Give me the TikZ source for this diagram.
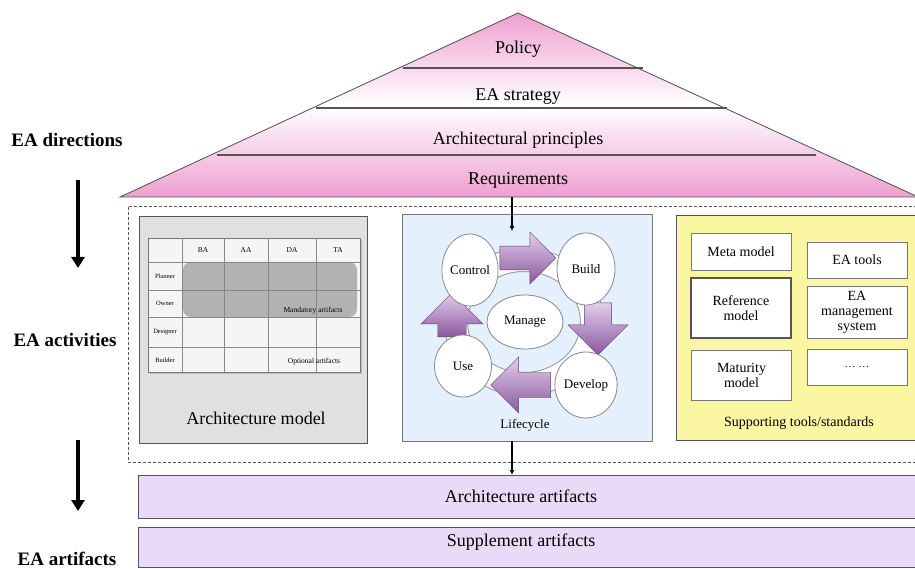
\documentclass[tikz,border=0pt]{standalone}
\usepackage{fontspec}
\setmainfont{Liberation Serif}
\usetikzlibrary{arrows.meta,shapes.geometric,shapes.arrows,shadows}

\definecolor{roofpink}{RGB}{238,160,208}
\definecolor{artlilac}{RGB}{233,218,247}
\definecolor{lifeblue}{RGB}{228,240,251}
\definecolor{toolyellow}{RGB}{250,246,162}
\definecolor{modelgrey}{RGB}{224,224,224}
\definecolor{edgegrey}{RGB}{85,85,85}
\definecolor{cyclepurple}{RGB}{138,88,158}
\definecolor{cyclelight}{RGB}{226,206,236}

\newcommand{\pxsize}[2]{\fontsize{#1}{#2}\selectfont}

\begin{document}
\begin{tikzpicture}
      [x=1pt,y=-1pt,
      layer text/.style={font=\pxsize{18}{20}},
      side label/.style={font=\pxsize{19}{21}\bfseries},
      panel/.style={rectangle,draw=edgegrey,line width=1pt,inner sep=0pt},
      tool box/.style={rectangle,draw=edgegrey!80,fill=white,line width=0.8pt,
        minimum width=100,minimum height=36,align=center,inner sep=1pt,
        font=\pxsize{14}{15}},
      phase/.style={ellipse,draw=edgegrey!70,fill=white,line width=0.8pt,
        inner sep=0pt,font=\pxsize{13}{15}},
      cycle arrow/.style={single arrow,draw=cyclepurple!70!black,line width=0.4pt,
        top color=cyclelight,bottom color=cyclepurple,inner sep=11.5pt,
        single arrow head extend=14pt},
      big arrow/.style={line width=4.5pt,-{Triangle[width=13pt,length=11pt]}},
      link/.style={line width=1.6pt,-{Latex[length=5pt,width=5pt]}},
      cell text/.style={inner sep=0pt,font=\pxsize{7.5}{8}}]
      \useasboundingbox (0,0) rectangle (915,569);
      \fill[white] (0,0) rectangle (915,569);
      \clip (0,0) rectangle (915,569);
      % roof
      \filldraw[draw=edgegrey,line width=0.8pt,top color=roofpink,
        bottom color=roofpink,middle color=white] (120,197) -- (518,13) -- (918,197) -- cycle;
      \draw[edgegrey,line width=1.2pt] (403,68) -- (643,68);
      \draw[edgegrey,line width=1.2pt] (316,108) -- (727,108);
      \draw[edgegrey,line width=1.2pt] (217,155) -- (816,155);
      \node[layer text] (policy) at (518,49) {Policy};
      \node[layer text] (strategy) at (518,97) {EA strategy};
      \node[layer text] (principles) at (518,140) {Architectural principles};
      \node[layer text] (req) at (518,180) {Requirements};
      % side labels
      \node[side label] (dir) at (67,140) {EA directions};
      \node[side label] (act) at (65,340) {EA activities};
      \node[side label] (art) at (67,559) {EA artifacts};
      \coordinate (dirfrom) at (78,180);
      \coordinate (dirto) at (78,268);
      \coordinate (actfrom) at (78,440);
      \coordinate (actto) at (78,511);
      \draw[big arrow] (dirfrom) -- (dirto);
      \draw[big arrow] (actfrom) -- (actto);
      % activities frame
      \draw[edgegrey,line width=1pt,dash pattern=on 3pt off 2pt] (128,207) rectangle (925,462);
      \node[panel,fill=modelgrey,minimum width=228,minimum height=226] (model) at (253,330) {};
      \node[panel,fill=lifeblue,draw=edgegrey!80,minimum width=250,minimum height=226] (life) at (527,328) {};
      \node[panel,fill=toolyellow,minimum width=254,minimum height=224] (support) at (803,328) {};
      % architecture model table
      \filldraw[draw=edgegrey!80,fill=gray!8,drop shadow={opacity=0.35}] (148,238) rectangle (360,372);
      \fill[gray!60,rounded corners=8] (183,262) rectangle (357,317);
      \draw[edgegrey!70,line width=0.7pt] (182,238) -- (182,372) (224,238) -- (224,372)
        (268,238) -- (268,372) (316,238) -- (316,372);
      \draw[edgegrey!70,line width=0.7pt] (148,262) -- (360,262) (148,290) -- (360,290)
        (148,317) -- (360,317) (148,347) -- (360,347);
      \node[cell text] (ba) at (203,250) {BA};
      \node[cell text] (aa) at (246,250) {AA};
      \node[cell text] (da) at (292,250) {DA};
      \node[cell text] (ta) at (338,250) {TA};
      \node[cell text,font=\pxsize{6.5}{7}] (planner) at (165,276) {Planner};
      \node[cell text,font=\pxsize{6.5}{7}] (owner) at (165,303) {Owner};
      \node[cell text,font=\pxsize{6.5}{7}] (designer) at (165,332) {Designer};
      \node[cell text,font=\pxsize{6.5}{7}] (builder) at (165,360) {Builder};
      \node[cell text] (mandatory) at (313,311) {Mandatory artifacts};
      \node[cell text] (optional) at (314,362) {Optional artifacts};
      \node[font=\pxsize{18}{20}] (modeltext) at (256,418) {Architecture model};
      % lifecycle
      \draw[edgegrey!60,line width=24pt] (524,322) ellipse [x radius=68,y radius=62];
      \draw[white,line width=22pt] (524,322) ellipse [x radius=68,y radius=62];
      \node[cycle arrow,minimum height=56,minimum width=52] (toBuild) at (522,258) {};
      \node[cycle arrow,minimum height=52,minimum width=60,rotate=-90] (toDevelop) at (598,322) {};
      \node[cycle arrow,minimum height=60,minimum width=56,rotate=180] (toUse) at (527,385) {};
      \node[cycle arrow,minimum height=44,minimum width=62,rotate=90] (toControl) at (452,322) {};
      \node[phase,minimum width=56,minimum height=72] (control) at (470,270) {Control};
      \node[phase,minimum width=58,minimum height=72] (build) at (586,269) {Build};
      \node[phase,minimum width=76,minimum height=54] (manage) at (525,322) {Manage};
      \node[phase,minimum width=57,minimum height=62] (use) at (463,366) {Use};
      \node[phase,minimum width=62,minimum height=66] (develop) at (586,385) {Develop};
      \node[font=\pxsize{13}{15}] (lifetext) at (525,425) {Lifecycle};
      % supporting tools
      \node[tool box,minimum height=37] (meta) at (741,251.5) {Meta model};
      \node[tool box] (eatools) at (857,260) {EA tools};
      \node[tool box,minimum height=60,line width=1.4pt,draw=edgegrey] (reference) at (741,308) {Reference\\model};
      \node[tool box,minimum height=52] (ems) at (857,312) {EA\\management\\system};
      \node[tool box,minimum height=50] (maturity) at (741.5,375) {Maturity\\model};
      \node[tool box,font=\pxsize{11}{12}] (more) at (857,367) {\ldots\ \ldots};
      \node[font=\pxsize{14}{16}] (supporttext) at (799,423) {Supporting tools/standards};
      % artifacts
      \node[panel,fill=artlilac,minimum width=792,minimum height=43] (archbox) at (534,496.5) {};
      \node[font=\pxsize{18}{20}] (archart) at (521,496) {Architecture artifacts};
      \node[panel,fill=artlilac,minimum width=792,minimum height=40] (suppbox) at (534,547) {};
      \node[font=\pxsize{18}{20}] (suppart) at (521,542) {Supplement artifacts};
      % connectors
      \coordinate (roofdrop) at (512,197);
      \coordinate (lifein) at (512,231);
      \coordinate (lifeout) at (512,441);
      \coordinate (artin) at (512,475);
      \path[link] (roofdrop) edge (lifein);
      \path[link] (lifeout) edge (artin);
    \end{tikzpicture}
\end{document}
